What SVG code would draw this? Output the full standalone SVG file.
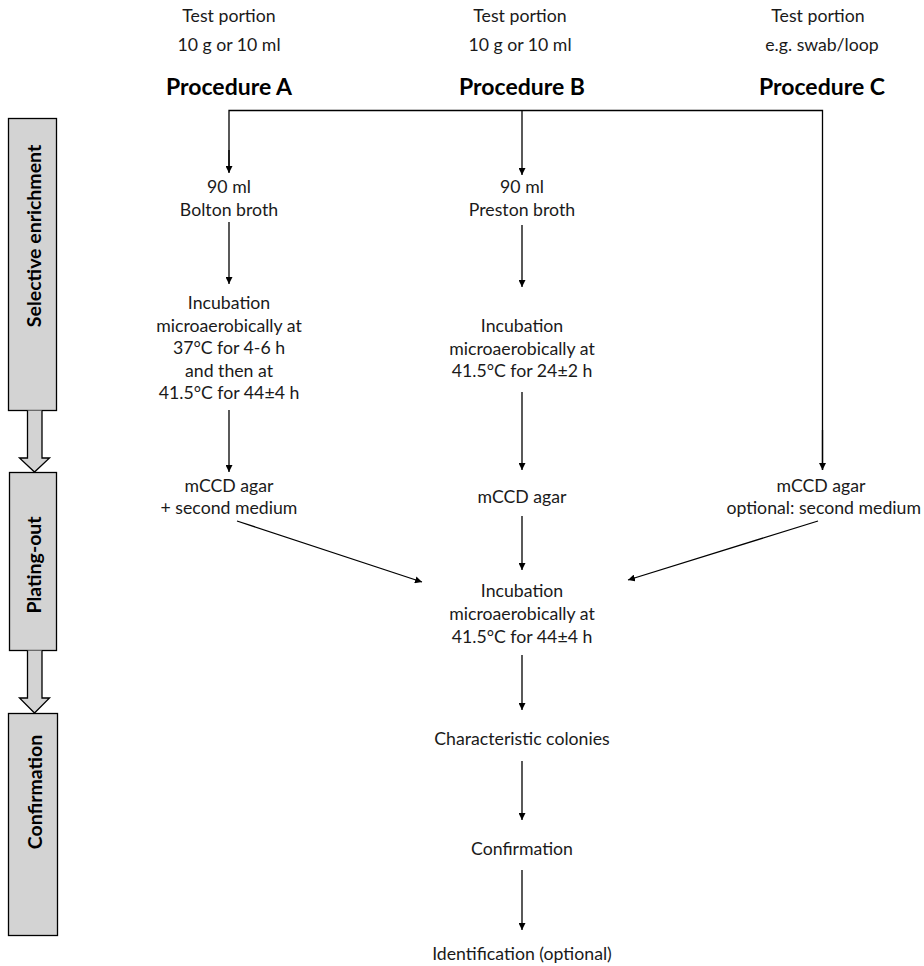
<svg xmlns="http://www.w3.org/2000/svg" width="924" height="966" viewBox="0 0 924 966">
<defs>
<marker id="ah" viewBox="0 0 10 10" refX="10" refY="5" markerWidth="7" markerHeight="7" markerUnits="userSpaceOnUse" orient="auto">
<path d="M0,0 L10,5 L0,10 z" fill="#000"/>
</marker>
</defs>
<style>
text{font-family:Lato,"Open Sans","Liberation Sans",sans-serif;font-size:17.7px;fill:#1a1a1a;text-anchor:middle}
.h{font-size:23px;font-weight:bold;fill:#000}
.s{font-size:19.5px;font-weight:bold;fill:#000}
.box{fill:#d3d3d3;stroke:#000;stroke-width:1.3}
.c{stroke:#000;stroke-width:1.3;fill:none}
.a{stroke:#000;stroke-width:1.3;fill:none;marker-end:url(#ah)}
</style>
<rect width="924" height="966" fill="#fff"/>
<g id="stages">
<g id="stage-enrichment"><rect class="box" x="8.5" y="118.5" width="48" height="292"/><text class="s" transform="translate(41,236) rotate(-90)">Selective enrichment</text></g>
<path class="box" d="M27.5,410.5 V458 H19.5 L34.5,472 L49.5,458 H42 V410.5"/>
<g id="stage-plating"><rect class="box" x="9.5" y="472.5" width="47" height="178"/><text class="s" transform="translate(41,565) rotate(-90)">Plating-out</text></g>
<path class="box" d="M27.5,650.5 V698 H19.5 L34.5,713 L49.5,698 H42 V650.5"/>
<g id="stage-confirmation"><rect class="box" x="8.5" y="713.5" width="49" height="222"/><text class="s" transform="translate(42,792) rotate(-90)">Confirmation</text></g>
</g>
<g id="portionA"><text x="229" y="22">Test portion</text><text x="229" y="51">10 g or 10 ml</text></g>
<g id="portionB"><text x="520" y="22">Test portion</text><text x="520" y="51">10 g or 10 ml</text></g>
<g id="portionC"><text x="818" y="22">Test portion</text><text x="822" y="51">e.g. swab/loop</text></g>
<g id="procA"><text class="h" x="229" y="95">Procedure A</text></g>
<g id="procB"><text class="h" x="522" y="95">Procedure B</text></g>
<g id="procC"><text class="h" x="822" y="95">Procedure C</text></g>
<g id="boltonA"><text x="229" y="193">90 ml</text><text x="229" y="216">Bolton broth</text></g>
<g id="incA"><text x="229" y="309">Incubation</text><text x="229" y="332">microaerobically at</text><text x="229" y="354">37°C for 4-6 h</text><text x="229" y="377">and then at</text><text x="229" y="399">41.5°C for 44±4 h</text></g>
<g id="agarA"><text x="229" y="492">mCCD agar</text><text x="229" y="514">+ second medium</text></g>
<g id="prestonB"><text x="522" y="193">90 ml</text><text x="522" y="216">Preston broth</text></g>
<g id="incB"><text x="522" y="332">Incubation</text><text x="522" y="355">microaerobically at</text><text x="522" y="377">41.5°C for 24±2 h</text></g>
<g id="agarB"><text x="522" y="503">mCCD agar</text></g>
<g id="agarC"><text x="821" y="492">mCCD agar</text><text x="921" y="514" style="text-anchor:end">optional: second medium</text></g>
<g id="incMain"><text x="522" y="597">Incubation</text><text x="522" y="620">microaerobically at</text><text x="522" y="643">41.5°C for 44±4 h</text></g>
<g id="colonies"><text x="522" y="745">Characteristic colonies</text></g>
<g id="confirm"><text x="522" y="855">Confirmation</text></g>
<g id="ident"><text x="522" y="960">Identification (optional)</text></g>
<g id="connectors">
<path class="c" d="M229,172 V110.5 H822.5 V470"/>
<path class="a" d="M229,150 V173"/>
<path class="a" d="M822.5,430 V470"/>
<path class="a" d="M522,110.5 V175"/>
<path class="a" d="M229,222 V284"/>
<path class="a" d="M229,410 V472"/>
<path class="a" d="M522,225 V287"/>
<path class="a" d="M522,392 V470"/>
<path class="a" d="M522,516 V570"/>
<path class="a" d="M237,521 L422,582"/>
<path class="a" d="M818,521 L628,580"/>
<path class="a" d="M522,655 V710"/>
<path class="a" d="M522,761 V820"/>
<path class="a" d="M522,870 V930"/>
</g>
</svg>
